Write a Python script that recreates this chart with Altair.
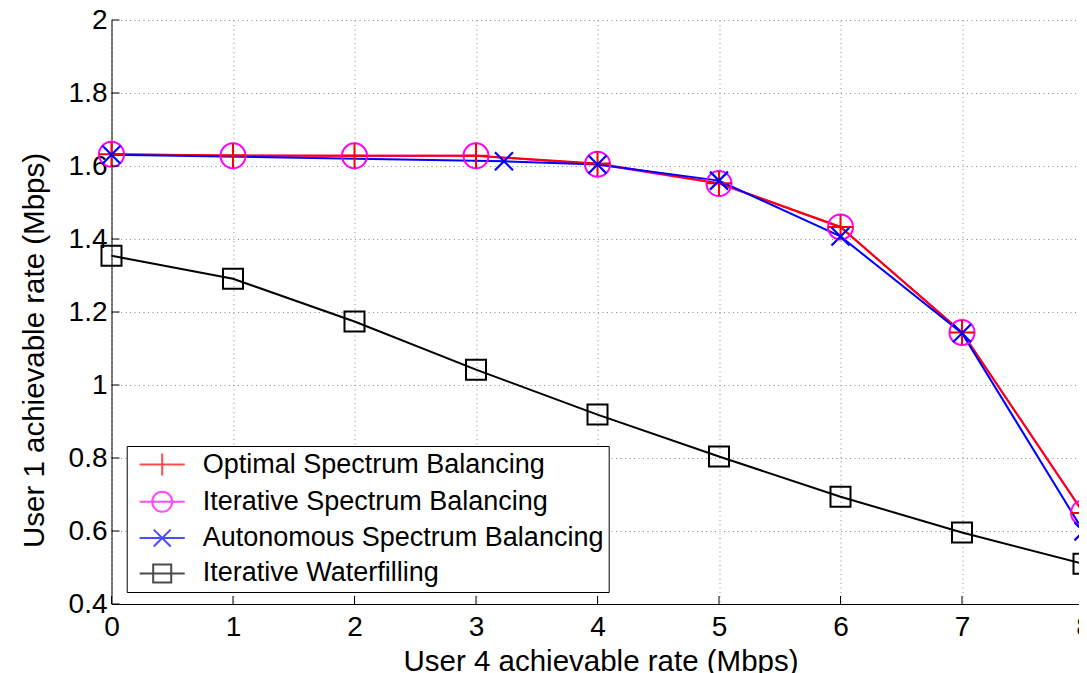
import altair as alt
import pandas as pd

# ---- data ----
names = ["Optimal Spectrum Balancing", "Iterative Spectrum Balancing",
         "Autonomous Spectrum Balancing", "Iterative Waterfilling"]
colors = ["#ff0000", "#ff00ff", "#0000ff", "#000000"]

x_osb = [0, 1, 2, 3, 4, 5, 6, 7, 8]
y_osb = [1.632, 1.629, 1.628, 1.628, 1.607, 1.553, 1.433, 1.144, 0.649]

x_isb = [0, 1, 2, 3, 4, 5, 6, 7, 8]
y_isb = [1.632, 1.628, 1.628, 1.628, 1.605, 1.552, 1.433, 1.144, 0.650]

x_asb = [0, 3.23, 4, 5, 6, 7, 8]
y_asb = [1.631, 1.613, 1.604, 1.560, 1.407, 1.142, 0.599]

x_iwf = [0, 1, 2, 3, 4, 5, 6, 7, 8]
y_iwf = [1.354, 1.291, 1.174, 1.042, 0.919, 0.804, 0.694, 0.596, 0.510]

x_ticks = [0, 1, 2, 3, 4, 5, 6, 7, 8]
y_ticks = [0.4, 0.6, 0.8, 1.0, 1.2, 1.4, 1.6, 1.8, 2.0]

# ---- tables ----
def mk(name, xs, ys):
    return pd.DataFrame({"series": name, "x": xs, "y": ys})

df_osb = mk(names[0], x_osb, y_osb)
df_isb = mk(names[1], x_isb, y_isb)
df_asb = mk(names[2], x_asb, y_asb)
df_iwf = mk(names[3], x_iwf, y_iwf)
df_all = pd.concat([df_osb, df_isb, df_asb, df_iwf], ignore_index=True)

FONT = "Liberation Sans"

xscale = alt.Scale(domain=[0, 8], nice=False, zero=False)
yscale = alt.Scale(domain=[0.4, 2.0], nice=False, zero=False)

xaxis = alt.Axis(values=x_ticks, format="d", title="User 4 achievable rate (Mbps)",
                 labelPadding=9, labelFlush=False, labelOverlap=False,
                 titleX=489, titleY=66, titleAlign="center", titleBaseline="alphabetic")
yaxis = alt.Axis(values=y_ticks, format=".1~f", title="User 1 achievable rate (Mbps)",
                 labelPadding=4.5, labelFlush=False, labelOverlap=False,
                 titleX=-68.5, titleY=330, titleAngle=-90, titleAlign="center",
                 titleBaseline="alphabetic")

X = alt.X("x:Q", scale=xscale, axis=xaxis)
Y = alt.Y("y:Q", scale=yscale, axis=yaxis)

def line(df, color):
    return alt.Chart(df).mark_line(color=color, strokeWidth=2).encode(x=X, y=Y)

PLUS = "M-1,0L1,0M0,-1L0,1"
XMARK = "M-1,-1L1,1M-1,1L1,-1"

def pts(df, shape, color, size, sw=2):
    return alt.Chart(df).mark_point(shape=shape, filled=False, color=color,
                                    size=size, strokeWidth=sw, opacity=1).encode(x=X, y=Y)

lines = [line(df_isb, colors[1]), line(df_osb, colors[0]),
         line(df_asb, colors[2]), line(df_iwf, colors[3])]
points = [pts(df_isb, "circle", colors[1], 625),
          pts(df_osb, PLUS, colors[0], 625),
          pts(df_asb, XMARK, colors[2], 324, 2.2),
          pts(df_iwf, "square", colors[3], 400)]

# inward ticks
ytick_df = pd.DataFrame({"y": y_ticks})
xtick_df = pd.DataFrame({"x": x_ticks})
yticks = alt.Chart(ytick_df).mark_rule(color="black", strokeWidth=1).encode(
    y=alt.Y("y:Q", scale=yscale, axis=yaxis), x=alt.value(0), x2=alt.value(8))
xticks = alt.Chart(xtick_df).mark_rule(color="black", strokeWidth=1).encode(
    x=alt.X("x:Q", scale=xscale, axis=xaxis), y=alt.value(584), y2=alt.value(576))

# legend symbols (line through marker)
leg_shapes = [
    "M-2.05,0L2.05,0M0,-1L0,1",
    "M-2.05,0L2.05,0M-0.91,0A0.91,0.91,0,1,0,0.91,0A0.91,0.91,0,1,0,-0.91,0",
    "M-2.05,0L2.05,0M-0.77,-0.77L0.77,0.77M-0.77,0.77L0.77,-0.77",
    "M-2.05,0L2.05,0M-0.82,-0.82L0.82,-0.82L0.82,0.82L-0.82,0.82Z",
]
legend = alt.Legend(title=None, orient="none", legendX=15.2, legendY=426,
                    padding=5, strokeColor="black", fillColor="white",
                    symbolSize=484, symbolStrokeWidth=2, symbolOffset=17,
                    labelOffset=27, labelFontSize=27, labelFont=FONT,
                    labelColor="black", rowPadding=7.3, labelLimit=800)
leg_layer = alt.Chart(df_all).transform_filter("false").mark_point(
    filled=False, strokeWidth=2).encode(
    x=X, y=Y,
    color=alt.Color("series:N", scale=alt.Scale(domain=names, range=colors), legend=legend),
    shape=alt.Shape("series:N", scale=alt.Scale(domain=names, range=leg_shapes), legend=legend),
)

chart = alt.layer(*lines, *points, yticks, xticks, leg_layer).properties(
    width=972, height=584,
    autosize=alt.AutoSizeParams(type="none"),
    padding={"left": 103.5, "top": 12, "right": -4.5, "bottom": 70},
    background="white",
).configure_view(stroke=None).configure_axis(
    labelFont=FONT, labelFontSize=28, labelColor="black",
    titleFont=FONT, titleFontSize=29.5, titleFontWeight="normal", titleColor="black",
    domainColor="black", domainWidth=1, ticks=False,
    grid=True, gridColor="#888888", gridDash=[1, 3.5], gridWidth=1, gridOpacity=1,
)

chart.save("out.html", embed_options={"renderer": "svg", "actions": False})
